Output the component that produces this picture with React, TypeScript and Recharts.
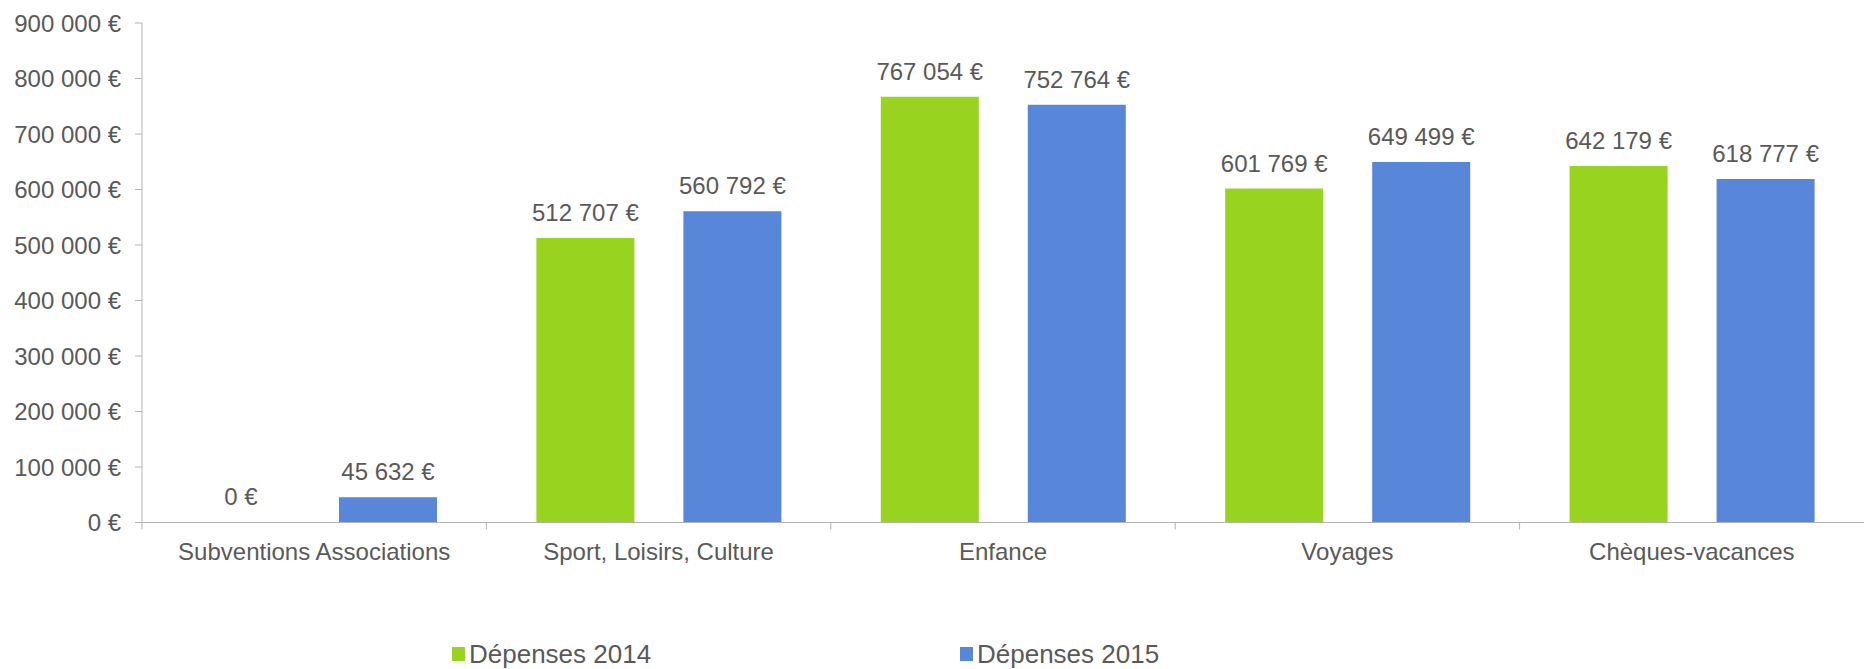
import { BarChart, Bar, XAxis, YAxis, LabelList } from 'recharts';

const categories = ['Subventions Associations', 'Sport, Loisirs, Culture', 'Enfance', 'Voyages', 'Chèques-vacances'];
const depenses2014 = [0, 512707, 767054, 601769, 642179];
const depenses2015 = [45632, 560792, 752764, 649499, 618777];
const yTicks = [0, 100000, 200000, 300000, 400000, 500000, 600000, 700000, 800000, 900000];

const GREEN = '#97d31f';
const BLUE = '#5887d9';
const TEXT = '#595959';
const AXIS = '#b3b3b3';
const FONT = '"Liberation Sans", Arial, sans-serif';

const data = categories.map((name, i) => ({
  name,
  d2014: depenses2014[i],
  d2015: depenses2015[i],
}));

const euro = (v: number) => String(v).replace(/\B(?=(\d{3})+(?!\d))/g, ' ') + ' €';

// band width of one category, used to put the x tick marks between groups
const BAND = (1864 - 142) / categories.length;

const CategoryTick = (props: any) => {
  const { x, y, payload } = props;
  return (
    <g>
      <line x1={x - BAND / 2} x2={x - BAND / 2} y1={y - 20} y2={y - 13} stroke={AXIS} />
      <text x={x} y={y} dy="0.71em" textAnchor="middle" fill={TEXT} fontSize={24} fontFamily={FONT}>
        {payload.value}
      </text>
    </g>
  );
};

// draws the value above the bar, also when the value is 0
const ValueLabel = (props: any) => {
  const { x, y, width, value } = props;
  if (value === undefined || value === null) return null;
  return (
    <text x={Number(x) + Number(width) / 2} y={Number(y) - 17} textAnchor="middle" fill={TEXT} fontSize={24} fontFamily={FONT}>
      {euro(Number(value))}
    </text>
  );
};

const legendItems = [
  { label: 'Dépenses 2014', color: GREEN, left: 452 },
  { label: 'Dépenses 2015', color: BLUE, left: 960 },
];

export default function App() {
  return (
    <div style={{ position: 'relative', width: 1866, height: 669 }}>
      <style>{'body{margin:0}'}</style>
      <BarChart
        width={1866}
        height={669}
        data={data}
        margin={{ top: 23, right: 2, left: 0, bottom: 0 }}
        barSize={98}
        barGap={49}
      >
        <XAxis
          dataKey="name"
          height={146.5}
          stroke={AXIS}
          tickLine={false}
          tickSize={7}
          tickMargin={13}
          interval={0}
          tick={<CategoryTick />}
        />
        <YAxis
          width={142}
          domain={[0, 900000]}
          ticks={yTicks}
          tickFormatter={euro}
          stroke={AXIS}
          tickSize={7}
          tickMargin={14}
          tick={{ fill: TEXT, fontSize: 24, fontFamily: FONT }}
        />
        <Bar dataKey="d2014" name="Dépenses 2014" fill={GREEN} minPointSize={0.01} isAnimationActive={false}>
          <LabelList dataKey="d2014" content={<ValueLabel />} />
        </Bar>
        <Bar dataKey="d2015" name="Dépenses 2015" fill={BLUE} minPointSize={0.01} isAnimationActive={false}>
          <LabelList dataKey="d2015" content={<ValueLabel />} />
        </Bar>
      </BarChart>
      {legendItems.map((item) => (
        <div
          key={item.label}
          style={{
            position: 'absolute',
            left: item.left,
            top: 638,
            height: 32,
            display: 'flex',
            alignItems: 'center',
            fontFamily: FONT,
            fontSize: 26,
            color: TEXT,
          }}
        >
          <span style={{ display: 'inline-block', width: 13, height: 14, background: item.color, marginRight: 4 }} />
          {item.label}
        </div>
      ))}
    </div>
  );
}
